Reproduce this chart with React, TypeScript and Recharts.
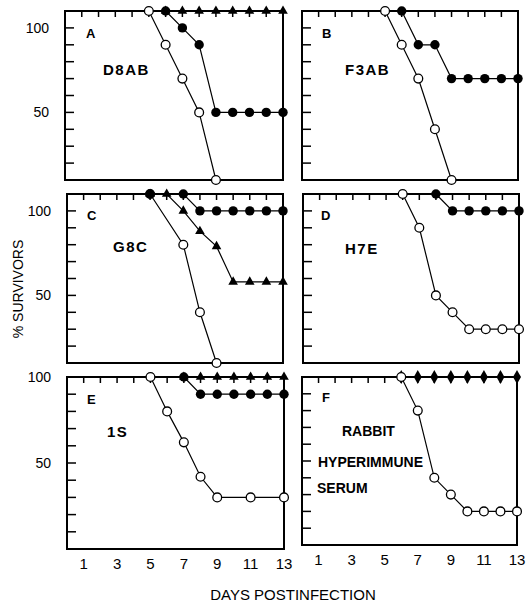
import { LineChart, Line, XAxis, YAxis, Symbols } from "recharts"

// days post infection (x) and % survivors (y)
const aOpenDays = [5, 6, 7, 8, 9]
const aOpenVals = [110, 90, 70, 50, 10]
const aFilledDays = [6, 7, 8, 9, 10, 11, 12, 13]
const aFilledVals = [110, 100, 90, 50, 50, 50, 50, 50]
const aTriDays = [6, 7, 8, 9, 10, 11, 12, 13]
const aTriVals = [110, 110, 110, 110, 110, 110, 110, 110]

const bOpenDays = [5, 6, 7, 8, 9]
const bOpenVals = [110, 90, 70, 40, 10]
const bFilledDays = [6, 7, 8, 9, 10, 11, 12, 13]
const bFilledVals = [110, 90, 90, 70, 70, 70, 70, 70]

const cOpenDays = [5, 7, 8, 9]
const cOpenVals = [110, 80, 40, 10]
const cFilledDays = [5, 7, 8, 9, 10, 11, 12, 13]
const cFilledVals = [110, 110, 100, 100, 100, 100, 100, 100]
const cTriDays = [5, 6, 7, 8, 9, 10, 11, 12, 13]
const cTriVals = [110, 110, 100, 88, 79, 58, 58, 58, 58]

const dOpenDays = [6, 7, 8, 9, 10, 11, 12, 13]
const dOpenVals = [110, 90, 50, 40, 30, 30, 30, 30]
const dFilledDays = [8, 9, 10, 11, 12, 13]
const dFilledVals = [110, 100, 100, 100, 100, 100]

const eOpenDays = [5, 6, 7, 8, 9, 11, 13]
const eOpenVals = [100, 80, 62, 42, 30, 30, 30]
const eFilledDays = [7, 8, 9, 10, 11, 12, 13]
const eFilledVals = [100, 90, 90, 90, 90, 90, 90]
const eTriDays = [7, 8, 9, 10, 11, 12, 13]
const eTriVals = [100, 100, 100, 100, 100, 100, 100]

const fOpenDays = [6, 7, 8, 9, 10, 11, 12, 13]
const fOpenVals = [100, 80, 40, 30, 20, 20, 20, 20]
const fDiamondDays = [6, 7, 8, 9, 10, 11, 12, 13]
const fDiamondVals = [100, 100, 100, 100, 100, 100, 100, 100]

const dayTicks = [1, 2, 3, 4, 5, 6, 7, 8, 9, 10, 11, 12]
const dayLabels = [1, 3, 5, 7, 9, 11, 13]
const upperTicks = [20, 30, 40, 50, 60, 70, 80, 90, 100]
const lowerTicks = [10, 20, 30, 40, 50, 60, 70, 80, 90, 100]
const labelledTicks = [50, 100]

const FONT = "'Liberation Sans', Arial, sans-serif"
const M = 8 // room for markers sitting on the frame
const R = 12
const LW = 48

type Kind = "open" | "filled" | "tri" | "diamond"
type Series = { kind: Kind; days: number[]; vals: number[] }
type Box = { x: number; y: number; w: number; h: number }

const mk = (kind: Kind, days: number[], vals: number[]): Series => ({ kind, days, vals })
const rows = (s: Series) => s.days.map((d, j) => ({ day: d, v: s.vals[j] }))

const renderDot = (kind: Kind) => (p: any) => {
  const { cx, cy, index } = p
  if (cx == null || cy == null) return <g key={index} />
  if (kind === "open")
    return <circle key={index} cx={cx} cy={cy} r={4.4} fill="#fff" stroke="#000" strokeWidth={1.3} />
  if (kind === "filled") return <circle key={index} cx={cx} cy={cy} r={4.7} fill="#000" />
  return (
    <Symbols
      key={index}
      cx={cx}
      cy={cy}
      type={kind === "tri" ? "triangle" : "diamond"}
      size={kind === "tri" ? 40 : 55}
      fill="#000"
    />
  )
}

const frame = { stroke: "#000", strokeWidth: 2, strokeLinecap: "square" as const }
const blank = () => ""

function Panel({
  box,
  yDomain,
  yTicks,
  series,
  yLabels,
  xLabels,
}: {
  box: Box
  yDomain: [number, number]
  yTicks: number[]
  series: Series[]
  yLabels: boolean
  xLabels: boolean
}) {
  // axes of size 0 are not drawn, so the frame axes get 1px
  const bottom = xLabels ? 28 : 1
  const width = LW + box.w + 1 + R
  const height = M + 1 + box.h + bottom + M
  return (
    <div style={{ position: "absolute", left: box.x - LW, top: box.y - M - 1 }}>
      <LineChart width={width} height={height} margin={{ top: M, right: R, bottom: M, left: 0 }}>
        <XAxis
          xAxisId="top"
          orientation="top"
          type="number"
          dataKey="day"
          domain={[0, 13]}
          ticks={dayTicks}
          interval={0}
          height={1}
          tickFormatter={blank}
          tickSize={-6}
          axisLine={frame}
          tickLine={{ stroke: "#000", strokeWidth: 1.5 }}
        />
        <XAxis
          xAxisId="b"
          orientation="bottom"
          type="number"
          dataKey="day"
          domain={[0, 13]}
          ticks={dayLabels}
          interval={0}
          height={bottom}
          tickLine={false}
          tickMargin={3}
          tick={xLabels ? { fill: "#000", fontSize: 15, fontFamily: FONT } : false}
          axisLine={frame}
        />
        <YAxis
          yAxisId="l"
          orientation="left"
          type="number"
          domain={yDomain}
          ticks={yTicks}
          interval={0}
          width={LW}
          tickSize={-9}
          tickMargin={25}
          tickFormatter={(v: number) => (yLabels && labelledTicks.includes(v) ? String(v) : "")}
          tick={{ fill: "#000", fontSize: 14, fontFamily: FONT }}
          axisLine={frame}
          tickLine={{ stroke: "#000", strokeWidth: 1.5 }}
        />
        <YAxis
          yAxisId="r"
          orientation="right"
          type="number"
          domain={yDomain}
          ticks={yTicks}
          width={1}
          tick={false}
          tickLine={false}
          axisLine={frame}
        />
        {/* invisible copy of the first series, so the top and right axes are in use */}
        <Line
          xAxisId="top"
          yAxisId="r"
          data={rows(series[0])}
          dataKey="v"
          stroke="none"
          dot={false}
          activeDot={false}
          isAnimationActive={false}
        />
        {series.map((s, i) => (
          <Line
            key={i}
            xAxisId="b"
            yAxisId="l"
            data={rows(s)}
            dataKey="v"
            type="linear"
            stroke="#000"
            strokeWidth={1.2}
            dot={renderDot(s.kind)}
            activeDot={false}
            isAnimationActive={false}
          />
        ))}
      </LineChart>
    </div>
  )
}

const upper: [number, number] = [10, 110]
const lower: [number, number] = [0, 100]

export default function App() {
  const codeStyle = { fontSize: 15, fontWeight: 700, letterSpacing: 1.5 }
  const letterStyle = { fontSize: 13, fontWeight: 700 }
  const serumStyle = { fontSize: 14, fontWeight: 700 }
  return (
    <div
      style={{
        position: "absolute",
        left: 0,
        top: 0,
        width: 526,
        height: 603,
        overflow: "hidden",
        background: "#fff",
        fontFamily: FONT,
      }}
    >
      <Panel
        box={{ x: 65, y: 11, w: 218, h: 169 }}
        yDomain={upper}
        yTicks={upperTicks}
        yLabels
        xLabels={false}
        series={[mk("tri", aTriDays, aTriVals), mk("open", aOpenDays, aOpenVals), mk("filled", aFilledDays, aFilledVals)]}
      />
      <Panel
        box={{ x: 302, y: 11, w: 216, h: 169 }}
        yDomain={upper}
        yTicks={upperTicks}
        yLabels={false}
        xLabels={false}
        series={[mk("open", bOpenDays, bOpenVals), mk("filled", bFilledDays, bFilledVals)]}
      />
      <Panel
        box={{ x: 67, y: 194, w: 216, h: 169 }}
        yDomain={upper}
        yTicks={upperTicks}
        yLabels
        xLabels={false}
        series={[mk("tri", cTriDays, cTriVals), mk("open", cOpenDays, cOpenVals), mk("filled", cFilledDays, cFilledVals)]}
      />
      <Panel
        box={{ x: 303, y: 194, w: 216, h: 169 }}
        yDomain={upper}
        yTicks={upperTicks}
        yLabels={false}
        xLabels={false}
        series={[mk("open", dOpenDays, dOpenVals), mk("filled", dFilledDays, dFilledVals)]}
      />
      <Panel
        box={{ x: 67, y: 377, w: 217, h: 172 }}
        yDomain={lower}
        yTicks={lowerTicks}
        yLabels
        xLabels
        series={[mk("tri", eTriDays, eTriVals), mk("open", eOpenDays, eOpenVals), mk("filled", eFilledDays, eFilledVals)]}
      />
      <Panel
        box={{ x: 302, y: 377, w: 215, h: 168 }}
        yDomain={lower}
        yTicks={lowerTicks}
        yLabels={false}
        xLabels
        series={[mk("diamond", fDiamondDays, fDiamondVals), mk("open", fOpenDays, fOpenVals)]}
      />
      <svg
        width={526}
        height={603}
        style={{ position: "absolute", left: 0, top: 0, pointerEvents: "none" }}
        fontFamily={FONT}
        fill="#000"
      >
        <text x={86} y={38} {...letterStyle}>A</text>
        <text x={103} y={75} {...codeStyle}>D8AB</text>
        <text x={322} y={38} {...letterStyle}>B</text>
        <text x={345} y={75} {...codeStyle}>F3AB</text>
        <text x={87} y={220} {...letterStyle}>C</text>
        <text x={113} y={252} {...codeStyle}>G8C</text>
        <text x={321} y={220} {...letterStyle}>D</text>
        <text x={345} y={254} {...codeStyle}>H7E</text>
        <text x={87} y={404} {...letterStyle}>E</text>
        <text x={107} y={437} {...codeStyle}>1S</text>
        <text x={322} y={402} {...letterStyle}>F</text>
        <text x={342} y={436} {...serumStyle}>RABBIT</text>
        <text x={318} y={467} {...serumStyle}>HYPERIMMUNE</text>
        <text x={317} y={493} {...serumStyle}>SERUM</text>
        <text x={23} y={289} fontSize={14} textAnchor="middle" transform="rotate(-90 23 289)">
          % SURVIVORS
        </text>
        <text x={293} y={600} fontSize={15} textAnchor="middle">
          DAYS POSTINFECTION
        </text>
      </svg>
    </div>
  )
}
